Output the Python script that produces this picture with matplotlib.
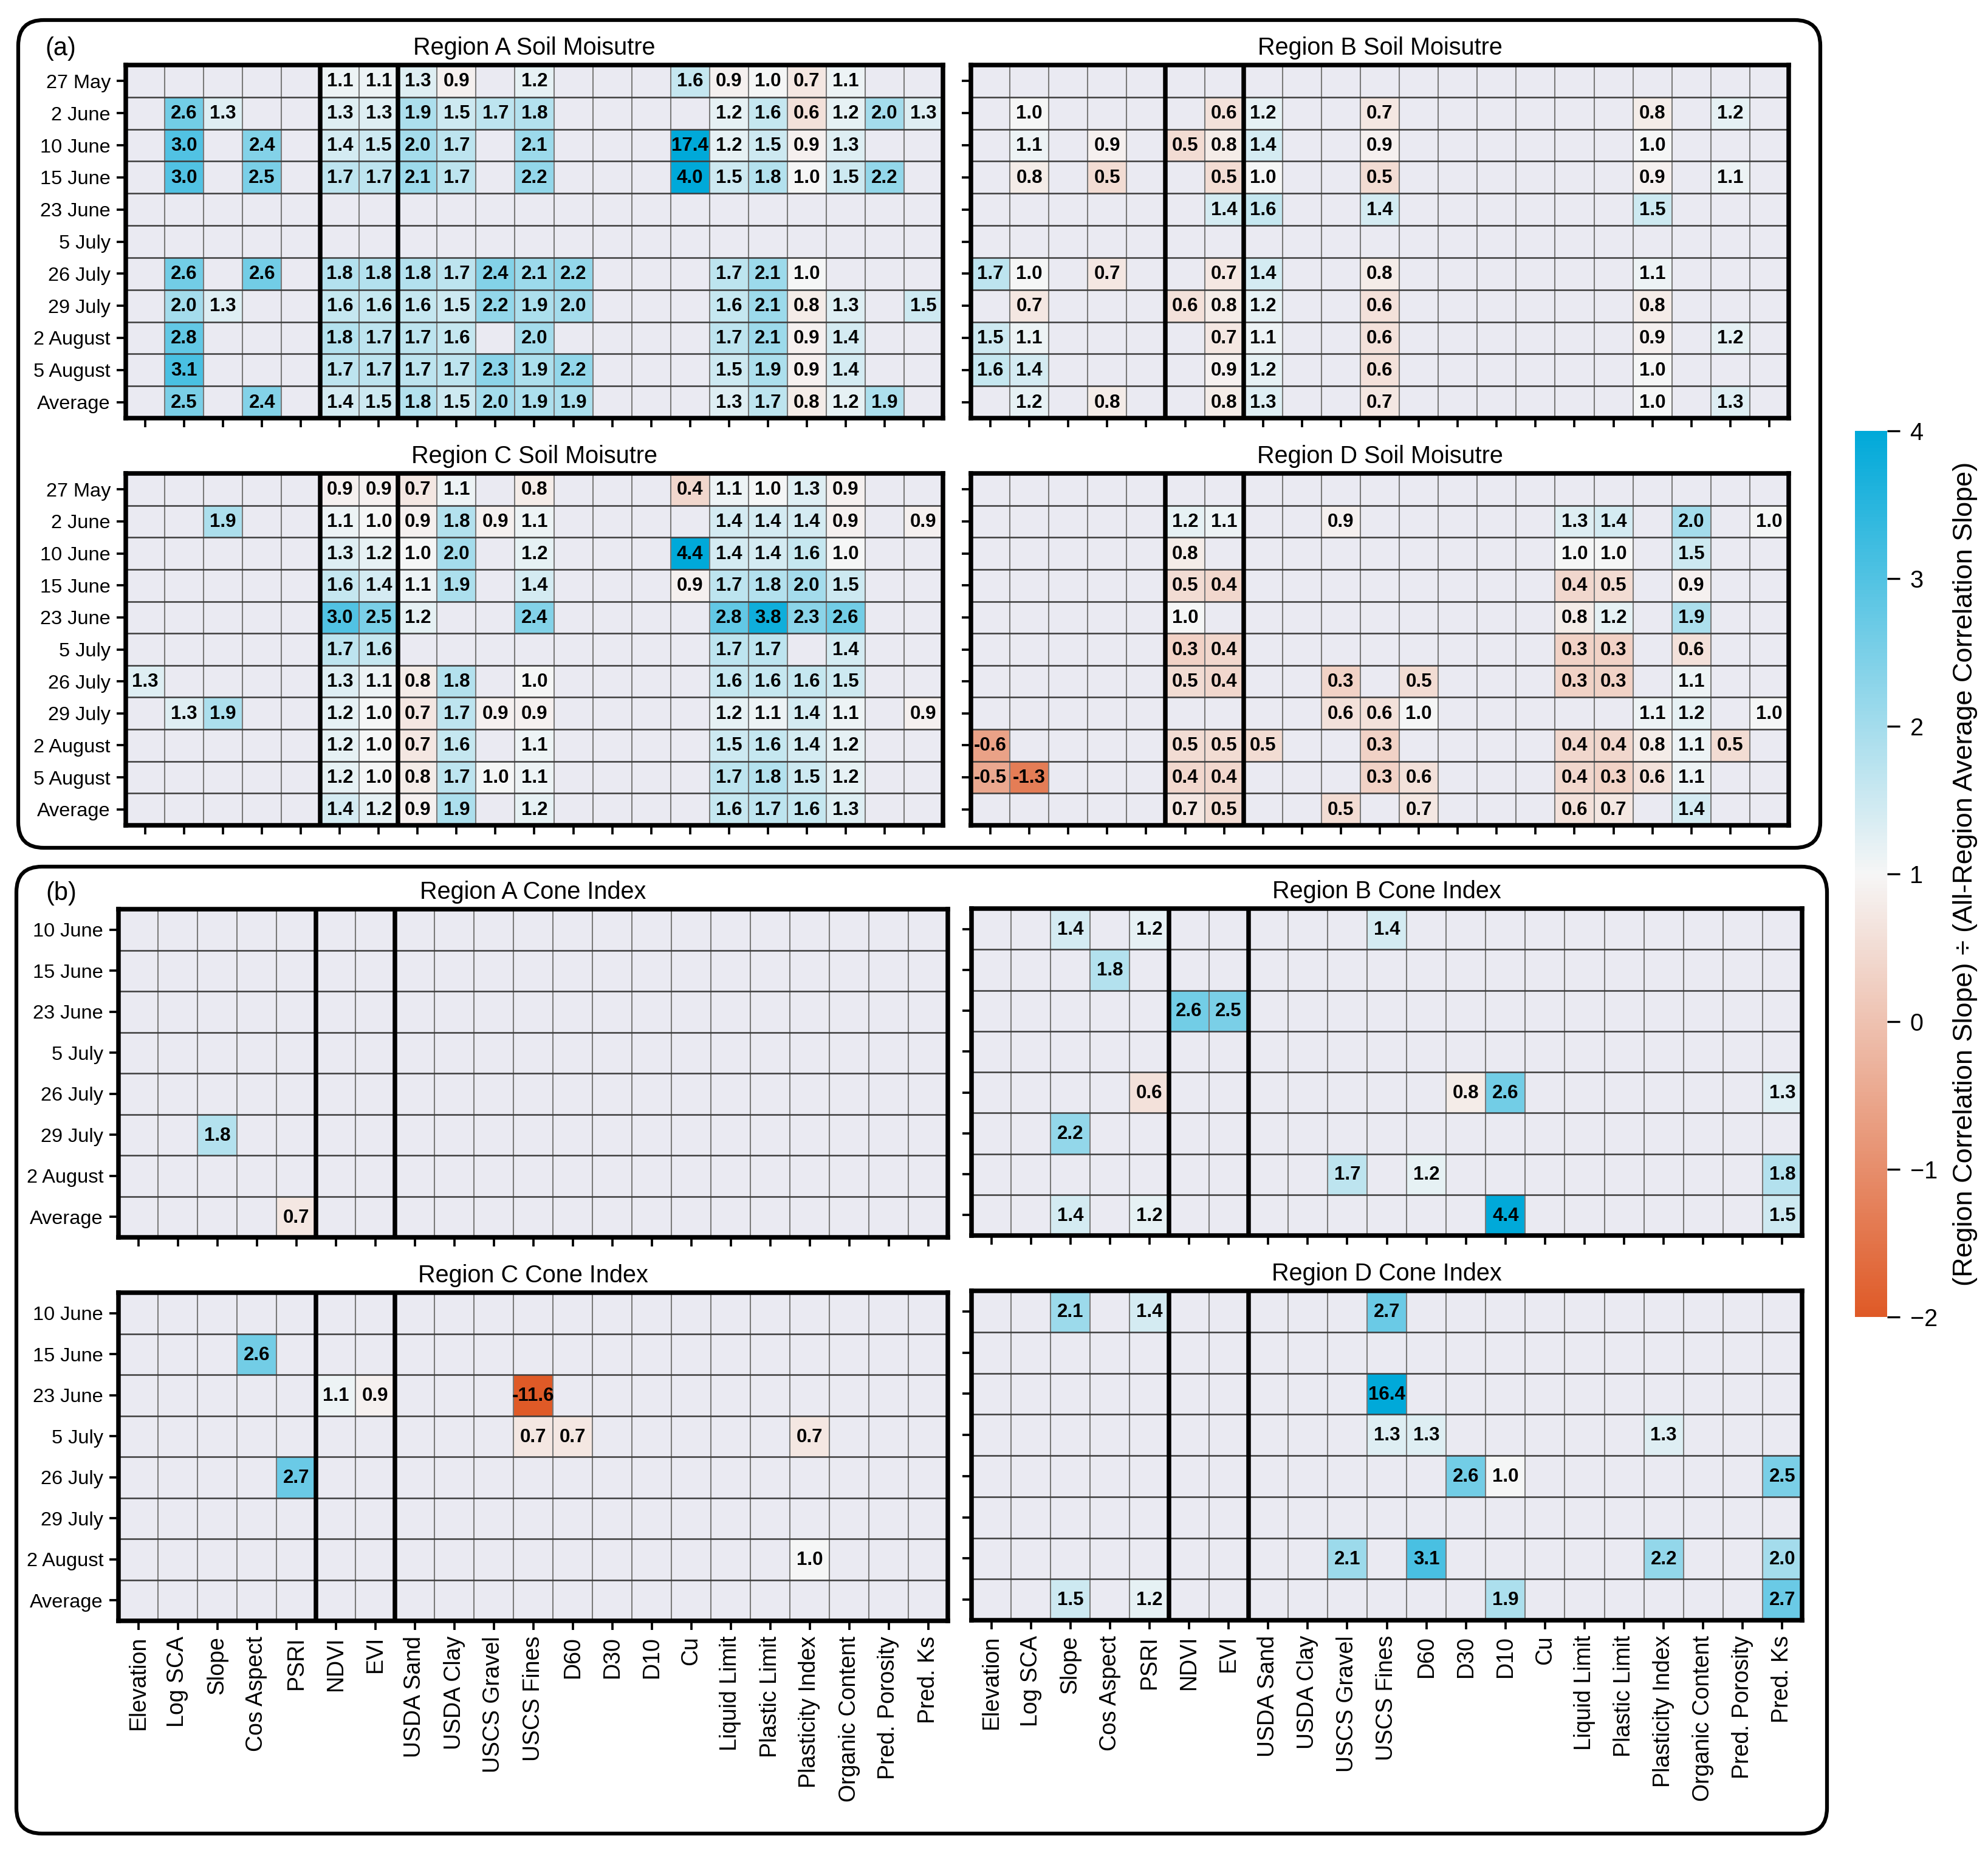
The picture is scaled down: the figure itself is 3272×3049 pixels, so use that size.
import numpy as np
import matplotlib
matplotlib.use('Agg')
import matplotlib.pyplot as plt
from matplotlib.colors import LinearSegmentedColormap, Normalize
from matplotlib.cm import ScalarMappable
from matplotlib.patches import FancyBboxPatch

plt.rcParams['font.family'] = ['Liberation Sans', 'DejaVu Sans']

_ = np.nan

features = ['Elevation', 'Log SCA', 'Slope', 'Cos Aspect', 'PSRI', 'NDVI', 'EVI',
            'USDA Sand', 'USDA Clay', 'USCS Gravel', 'USCS Fines', 'D60', 'D30', 'D10',
            'Cu', 'Liquid Limit', 'Plastic Limit', 'Plasticity Index', 'Organic Content',
            'Pred. Porosity', 'Pred. Ks']

sm_dates = ['27 May', '2 June', '10 June', '15 June', '23 June', '5 July',
            '26 July', '29 July', '2 August', '5 August', 'Average']
ci_dates = ['10 June', '15 June', '23 June', '5 July', '26 July', '29 July',
            '2 August', 'Average']

# soil moisture, one row per date, columns follow `features`
sm_a = [
    [_, _, _, _, _, 1.1, 1.1, 1.3, 0.9, _, 1.2, _, _, _, 1.6, 0.9, 1.0, 0.7, 1.1, _, _],
    [_, 2.6, 1.3, _, _, 1.3, 1.3, 1.9, 1.5, 1.7, 1.8, _, _, _, _, 1.2, 1.6, 0.6, 1.2, 2.0, 1.3],
    [_, 3.0, _, 2.4, _, 1.4, 1.5, 2.0, 1.7, _, 2.1, _, _, _, 17.4, 1.2, 1.5, 0.9, 1.3, _, _],
    [_, 3.0, _, 2.5, _, 1.7, 1.7, 2.1, 1.7, _, 2.2, _, _, _, 4.0, 1.5, 1.8, 1.0, 1.5, 2.2, _],
    [_] * 21,
    [_] * 21,
    [_, 2.6, _, 2.6, _, 1.8, 1.8, 1.8, 1.7, 2.4, 2.1, 2.2, _, _, _, 1.7, 2.1, 1.0, _, _, _],
    [_, 2.0, 1.3, _, _, 1.6, 1.6, 1.6, 1.5, 2.2, 1.9, 2.0, _, _, _, 1.6, 2.1, 0.8, 1.3, _, 1.5],
    [_, 2.8, _, _, _, 1.8, 1.7, 1.7, 1.6, _, 2.0, _, _, _, _, 1.7, 2.1, 0.9, 1.4, _, _],
    [_, 3.1, _, _, _, 1.7, 1.7, 1.7, 1.7, 2.3, 1.9, 2.2, _, _, _, 1.5, 1.9, 0.9, 1.4, _, _],
    [_, 2.5, _, 2.4, _, 1.4, 1.5, 1.8, 1.5, 2.0, 1.9, 1.9, _, _, _, 1.3, 1.7, 0.8, 1.2, 1.9, _],
]
sm_b = [
    [_] * 21,
    [_, 1.0, _, _, _, _, 0.6, 1.2, _, _, 0.7, _, _, _, _, _, _, 0.8, _, 1.2, _],
    [_, 1.1, _, 0.9, _, 0.5, 0.8, 1.4, _, _, 0.9, _, _, _, _, _, _, 1.0, _, _, _],
    [_, 0.8, _, 0.5, _, _, 0.5, 1.0, _, _, 0.5, _, _, _, _, _, _, 0.9, _, 1.1, _],
    [_, _, _, _, _, _, 1.4, 1.6, _, _, 1.4, _, _, _, _, _, _, 1.5, _, _, _],
    [_] * 21,
    [1.7, 1.0, _, 0.7, _, _, 0.7, 1.4, _, _, 0.8, _, _, _, _, _, _, 1.1, _, _, _],
    [_, 0.7, _, _, _, 0.6, 0.8, 1.2, _, _, 0.6, _, _, _, _, _, _, 0.8, _, _, _],
    [1.5, 1.1, _, _, _, _, 0.7, 1.1, _, _, 0.6, _, _, _, _, _, _, 0.9, _, 1.2, _],
    [1.6, 1.4, _, _, _, _, 0.9, 1.2, _, _, 0.6, _, _, _, _, _, _, 1.0, _, _, _],
    [_, 1.2, _, 0.8, _, _, 0.8, 1.3, _, _, 0.7, _, _, _, _, _, _, 1.0, _, 1.3, _],
]
sm_c = [
    [_, _, _, _, _, 0.9, 0.9, 0.7, 1.1, _, 0.8, _, _, _, 0.4, 1.1, 1.0, 1.3, 0.9, _, _],
    [_, _, 1.9, _, _, 1.1, 1.0, 0.9, 1.8, 0.9, 1.1, _, _, _, _, 1.4, 1.4, 1.4, 0.9, _, 0.9],
    [_, _, _, _, _, 1.3, 1.2, 1.0, 2.0, _, 1.2, _, _, _, 4.4, 1.4, 1.4, 1.6, 1.0, _, _],
    [_, _, _, _, _, 1.6, 1.4, 1.1, 1.9, _, 1.4, _, _, _, 0.9, 1.7, 1.8, 2.0, 1.5, _, _],
    [_, _, _, _, _, 3.0, 2.5, 1.2, _, _, 2.4, _, _, _, _, 2.8, 3.8, 2.3, 2.6, _, _],
    [_, _, _, _, _, 1.7, 1.6, _, _, _, _, _, _, _, _, 1.7, 1.7, _, 1.4, _, _],
    [1.3, _, _, _, _, 1.3, 1.1, 0.8, 1.8, _, 1.0, _, _, _, _, 1.6, 1.6, 1.6, 1.5, _, _],
    [_, 1.3, 1.9, _, _, 1.2, 1.0, 0.7, 1.7, 0.9, 0.9, _, _, _, _, 1.2, 1.1, 1.4, 1.1, _, 0.9],
    [_, _, _, _, _, 1.2, 1.0, 0.7, 1.6, _, 1.1, _, _, _, _, 1.5, 1.6, 1.4, 1.2, _, _],
    [_, _, _, _, _, 1.2, 1.0, 0.8, 1.7, 1.0, 1.1, _, _, _, _, 1.7, 1.8, 1.5, 1.2, _, _],
    [_, _, _, _, _, 1.4, 1.2, 0.9, 1.9, _, 1.2, _, _, _, _, 1.6, 1.7, 1.6, 1.3, _, _],
]
sm_d = [
    [_] * 21,
    [_, _, _, _, _, 1.2, 1.1, _, _, 0.9, _, _, _, _, _, 1.3, 1.4, _, 2.0, _, 1.0],
    [_, _, _, _, _, 0.8, _, _, _, _, _, _, _, _, _, 1.0, 1.0, _, 1.5, _, _],
    [_, _, _, _, _, 0.5, 0.4, _, _, _, _, _, _, _, _, 0.4, 0.5, _, 0.9, _, _],
    [_, _, _, _, _, 1.0, _, _, _, _, _, _, _, _, _, 0.8, 1.2, _, 1.9, _, _],
    [_, _, _, _, _, 0.3, 0.4, _, _, _, _, _, _, _, _, 0.3, 0.3, _, 0.6, _, _],
    [_, _, _, _, _, 0.5, 0.4, _, _, 0.3, _, 0.5, _, _, _, 0.3, 0.3, _, 1.1, _, _],
    [_, _, _, _, _, _, _, _, _, 0.6, 0.6, 1.0, _, _, _, _, _, 1.1, 1.2, _, 1.0],
    [-0.6, _, _, _, _, 0.5, 0.5, 0.5, _, _, 0.3, _, _, _, _, 0.4, 0.4, 0.8, 1.1, 0.5, _],
    [-0.5, -1.3, _, _, _, 0.4, 0.4, _, _, _, 0.3, 0.6, _, _, _, 0.4, 0.3, 0.6, 1.1, _, _],
    [_, _, _, _, _, 0.7, 0.5, _, _, 0.5, _, 0.7, _, _, _, 0.6, 0.7, _, 1.4, _, _],
]

# cone index
ci_a = [
    [_] * 21,
    [_] * 21,
    [_] * 21,
    [_] * 21,
    [_] * 21,
    [_, _, 1.8, _, _, _, _, _, _, _, _, _, _, _, _, _, _, _, _, _, _],
    [_] * 21,
    [_, _, _, _, 0.7, _, _, _, _, _, _, _, _, _, _, _, _, _, _, _, _],
]
ci_b = [
    [_, _, 1.4, _, 1.2, _, _, _, _, _, 1.4, _, _, _, _, _, _, _, _, _, _],
    [_, _, _, 1.8, _, _, _, _, _, _, _, _, _, _, _, _, _, _, _, _, _],
    [_, _, _, _, _, 2.6, 2.5, _, _, _, _, _, _, _, _, _, _, _, _, _, _],
    [_] * 21,
    [_, _, _, _, 0.6, _, _, _, _, _, _, _, 0.8, 2.6, _, _, _, _, _, _, 1.3],
    [_, _, 2.2, _, _, _, _, _, _, _, _, _, _, _, _, _, _, _, _, _, _],
    [_, _, _, _, _, _, _, _, _, 1.7, _, 1.2, _, _, _, _, _, _, _, _, 1.8],
    [_, _, 1.4, _, 1.2, _, _, _, _, _, _, _, _, 4.4, _, _, _, _, _, _, 1.5],
]
ci_c = [
    [_] * 21,
    [_, _, _, 2.6, _, _, _, _, _, _, _, _, _, _, _, _, _, _, _, _, _],
    [_, _, _, _, _, 1.1, 0.9, _, _, _, -11.6, _, _, _, _, _, _, _, _, _, _],
    [_, _, _, _, _, _, _, _, _, _, 0.7, 0.7, _, _, _, _, _, 0.7, _, _, _],
    [_, _, _, _, 2.7, _, _, _, _, _, _, _, _, _, _, _, _, _, _, _, _],
    [_] * 21,
    [_, _, _, _, _, _, _, _, _, _, _, _, _, _, _, _, _, 1.0, _, _, _],
    [_] * 21,
]
ci_d = [
    [_, _, 2.1, _, 1.4, _, _, _, _, _, 2.7, _, _, _, _, _, _, _, _, _, _],
    [_] * 21,
    [_, _, _, _, _, _, _, _, _, _, 16.4, _, _, _, _, _, _, _, _, _, _],
    [_, _, _, _, _, _, _, _, _, _, 1.3, 1.3, _, _, _, _, _, 1.3, _, _, _],
    [_, _, _, _, _, _, _, _, _, _, _, _, 2.6, 1.0, _, _, _, _, _, _, 2.5],
    [_] * 21,
    [_, _, _, _, _, _, _, _, _, 2.1, _, 3.1, _, _, _, _, _, 2.2, _, _, 2.0],
    [_, _, 1.5, _, 1.2, _, _, _, _, _, _, _, _, 1.9, _, _, _, _, _, _, 2.7],
]

W, H = 3272, 3049
DPI = 300
fig = plt.figure(figsize=(W / DPI, H / DPI), dpi=DPI)

cmap = LinearSegmentedColormap.from_list(
    'ratio', [(0.0, '#df5a27'), (0.5, '#f6f6f6'), (1.0, '#00a9d9')])
norm = Normalize(-2, 4)


def px_axes(x0, y0, x1, y1):
    # pixel box measured from the top-left corner of the picture
    return fig.add_axes([x0 / W, 1 - y1 / H, (x1 - x0) / W, (y1 - y0) / H])


def draw_panel(ax, data, dates, title, ylabels=True, xlabels=False):
    arr = np.array(data, dtype=float)
    nr, nc = arr.shape
    ax.set_facecolor('#eaeaf2')
    ax.pcolormesh(np.arange(nc + 1), np.arange(nr + 1), np.ma.masked_invalid(arr),
                  cmap=cmap, norm=norm)
    for i in range(nr):
        for j in range(nc):
            v = arr[i, j]
            if not np.isnan(v):
                ax.text(j + 0.5, i + 0.52, f'{v:.1f}', ha='center', va='center',
                        fontsize=7.5, fontweight='bold', color='black')
    ax.vlines(np.arange(1, nc), 0, nr, color='#7a7a7a', lw=0.5)
    ax.hlines(np.arange(1, nr), 0, nc, color='#3c3c3c', lw=0.6)
    ax.vlines([5, 7], 0, nr, color='black', lw=1.8)
    ax.set_xlim(0, nc)
    ax.set_ylim(nr, 0)
    for s in ax.spines.values():
        s.set_linewidth(1.8)
        s.set_color('black')
    ax.set_xticks(np.arange(nc) + 0.5)
    ax.set_yticks(np.arange(nr) + 0.5)
    ax.set_xticklabels(features if xlabels else [], rotation=90)
    ax.set_yticklabels(dates if ylabels else [])
    ax.tick_params(length=3.5, width=0.9, pad=2.5)
    ax.tick_params(axis='x', labelsize=9)
    ax.tick_params(axis='y', labelsize=7.8)
    ax.set_title(title, fontsize=9.5, pad=4)


# (a) soil moisture
draw_panel(px_axes(207, 107, 1552, 688), sm_a, sm_dates, 'Region A Soil Moisutre')
draw_panel(px_axes(1598, 107, 2944, 688), sm_b, sm_dates, 'Region B Soil Moisutre', ylabels=False)
draw_panel(px_axes(207, 779, 1552, 1358), sm_c, sm_dates, 'Region C Soil Moisutre')
draw_panel(px_axes(1598, 779, 2944, 1358), sm_d, sm_dates, 'Region D Soil Moisutre', ylabels=False)

# (b) cone index
draw_panel(px_axes(195, 1496, 1560, 2036), ci_a, ci_dates, 'Region A Cone Index')
draw_panel(px_axes(1599, 1495, 2966, 2033), ci_b, ci_dates, 'Region B Cone Index', ylabels=False)
draw_panel(px_axes(195, 2127, 1560, 2667), ci_c, ci_dates, 'Region C Cone Index', xlabels=True)
draw_panel(px_axes(1599, 2124, 2966, 2666), ci_d, ci_dates, 'Region D Cone Index',
           ylabels=False, xlabels=True)

# colour bar
cax = px_axes(3053, 709, 3106, 2167)
cb = fig.colorbar(ScalarMappable(norm=norm, cmap=cmap), cax=cax)
cb.outline.set_visible(False)
cb.set_ticks(range(-2, 5))
cax.tick_params(labelsize=9.5, length=5, width=0.8, pad=4)
cb.set_label('(Region Correlation Slope) \u00f7 (All-Region Average Correlation Slope)',
             fontsize=10.8, labelpad=6)

# rounded frames around (a) and (b)
for (x0, y0, x1, y1) in [(30, 33, 2996, 1395), (27, 1426, 3007, 3017)]:
    box = FancyBboxPatch((x0 / DPI, (H - y1) / DPI), (x1 - x0) / DPI, (y1 - y0) / DPI,
                         boxstyle='round,pad=0,rounding_size=0.14',
                         transform=fig.dpi_scale_trans, fill=False, lw=1.5, ec='black')
    fig.add_artist(box)

fig.text(100 / W, 1 - 80 / H, '(a)', ha='center', va='center', fontsize=10)
fig.text(101 / W, 1 - 1470 / H, '(b)', ha='center', va='center', fontsize=10)

fig.savefig('out.png', dpi=DPI)
